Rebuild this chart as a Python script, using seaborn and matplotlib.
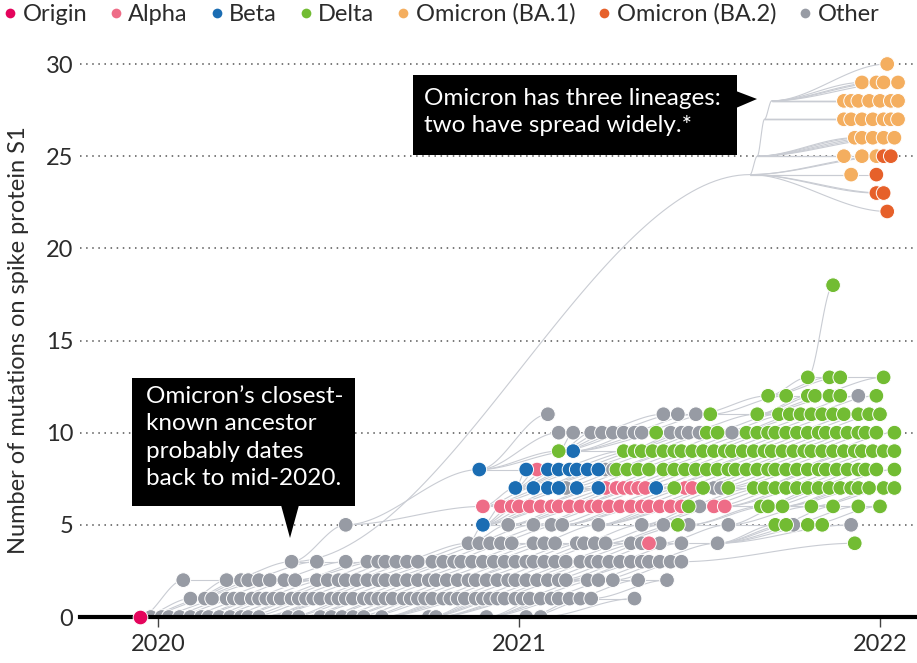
import numpy as np
import pandas as pd
import matplotlib
matplotlib.use("Agg")
import matplotlib.pyplot as plt
from matplotlib.collections import LineCollection
from matplotlib.lines import Line2D
from matplotlib.patches import Rectangle, Polygon
import seaborn as sns

# ---------------------------------------------------------------------------
# Data: sampled genomes, grouped by number of S1 mutations.
# Each entry is (mutations, [sampling dates in years since 1 Jan 2020]).
# ---------------------------------------------------------------------------
LINEAGES = ["Origin", "Alpha", "Beta", "Delta",
            "Omicron (BA.1)", "Omicron (BA.2)", "Other"]

COLORS = {
    "Origin": "#e4045c",
    "Alpha": "#ee6c87",
    "Beta": "#1b6db3",
    "Delta": "#72bc33",
    "Omicron (BA.1)": "#f4ae5f",
    "Omicron (BA.2)": "#e6602a",
    "Other": "#979ba4",
}

ORIGIN = [(0, [-0.05])]

OTHER = [
    (0, [-0.02, 0.01, 0.03, 0.06, 0.09, 0.12, 0.14, 0.17, 0.20, 0.23, 0.25,
         0.28, 0.36, 0.39, 0.45, 0.48, 0.51, 0.54, 0.57, 0.62, 0.75, 0.77,
         0.91, 1.02, 1.06]),
    (1, [0.09, 0.13, 0.15, 0.19, 0.21, 0.23, 0.26, 0.28, 0.30, 0.32, 0.34,
         0.37, 0.39, 0.41, 0.43, 0.45, 0.48, 0.50, 0.52, 0.54, 0.57, 0.59,
         0.61, 0.63, 0.65, 0.68, 0.70, 0.72, 0.74, 0.76, 0.79, 0.81, 0.83,
         0.85, 0.88, 0.90, 0.92, 0.94, 0.96, 0.99, 1.01, 1.03, 1.06, 1.09,
         1.11, 1.14, 1.17, 1.20, 1.32]),
    (2, [0.07, 0.19, 0.23, 0.25, 0.28, 0.31, 0.35, 0.38, 0.44, 0.47, 0.50,
         0.52, 0.55, 0.58, 0.61, 0.63, 0.66, 0.69, 0.72, 0.75, 0.77, 0.80,
         0.83, 0.86, 0.88, 0.91, 0.94, 0.97, 0.99, 1.02, 1.05, 1.08, 1.11,
         1.13, 1.19, 1.22, 1.26, 1.33, 1.41]),
    (3, [0.37, 0.44, 0.52, 0.58, 0.61, 0.63, 0.66, 0.69, 0.72, 0.76, 0.79,
         0.82, 0.84, 0.87, 0.90, 0.93, 0.96, 0.99, 1.02, 1.04, 1.07, 1.10,
         1.13, 1.17, 1.20, 1.22, 1.25, 1.28, 1.31, 1.34, 1.36, 1.39, 1.42,
         1.45]),
    (4, [0.86, 0.89, 0.92, 0.95, 0.98, 1.04, 1.07, 1.10, 1.16, 1.18, 1.21,
         1.24, 1.31, 1.34, 1.39, 1.45, 1.55]),
    (5, [0.52, 0.97, 1.04, 1.09, 1.12, 1.22, 1.34, 1.40, 1.47, 1.58, 1.76,
         1.92]),
    (6, [1.50]),
    (7, [1.13, 1.54, 1.56]),
    (8, [1.24, 1.26]),
    (10, [1.11, 1.15, 1.20, 1.23, 1.26, 1.29, 1.32, 1.34, 1.42, 1.45, 1.47,
          1.50, 1.59]),
    (11, [1.08, 1.40, 1.44, 1.49]),
    (12, [1.94]),
]

ALPHA = [
    (4, [1.36]),
    (6, [0.90, 0.95, 0.98, 1.00, 1.03, 1.06, 1.09, 1.11, 1.14, 1.17, 1.20,
         1.22, 1.25, 1.28, 1.31, 1.34, 1.36, 1.39, 1.42, 1.45, 1.54, 1.57]),
    (7, [1.24, 1.27, 1.29, 1.31, 1.33, 1.35, 1.46, 1.48]),
    (8, [1.05]),
]

BETA = [
    (5, [0.90]),
    (7, [0.99, 1.04, 1.08, 1.11, 1.16, 1.22, 1.38]),
    (8, [0.89, 1.02, 1.08, 1.11, 1.14, 1.16, 1.19, 1.22]),
    (9, [1.15]),
]

DELTA = [
    (4, [1.93]),
    (5, [1.44, 1.71, 1.74, 1.80, 1.84]),
    (6, [1.47, 1.67, 1.69, 1.73, 1.81, 1.87, 1.94, 2.00]),
    (7, [1.43, 1.51, 1.58, 1.65, 1.68, 1.71, 1.74, 1.77, 1.80, 1.83, 1.86,
         1.89, 1.92, 1.94, 1.97, 2.01, 2.04]),
    (8, [1.27, 1.30, 1.33, 1.36, 1.40, 1.43, 1.46, 1.49, 1.52, 1.55, 1.58,
         1.60, 1.63, 1.66, 1.69, 1.71, 1.74, 1.77, 1.80, 1.83, 1.85, 1.88,
         1.91, 1.94, 1.96, 1.99, 2.04]),
    (9, [1.11, 1.29, 1.32, 1.34, 1.37, 1.40, 1.43, 1.45, 1.48, 1.51, 1.54,
         1.57, 1.59, 1.62, 1.65, 1.68, 1.70, 1.73, 1.76, 1.79, 1.81, 1.84,
         1.87, 1.90, 1.93, 1.95, 1.98, 2.01, 2.04]),
    (10, [1.38, 1.52, 1.55, 1.63, 1.66, 1.69, 1.71, 1.74, 1.77, 1.80, 1.83,
          1.85, 1.88, 1.91, 1.94, 1.96, 1.99, 2.04]),
    (11, [1.53, 1.66, 1.72, 1.75, 1.78, 1.81, 1.84, 1.87, 1.90, 1.94, 1.97,
          2.00]),
    (12, [1.69, 1.74, 1.80, 1.82, 1.86, 1.89, 1.99]),
    (13, [1.80, 1.86, 1.89, 2.01]),
    (18, [1.87]),
]

BA1 = [
    (24, [1.92]),
    (25, [1.90, 1.95, 1.99]),
    (26, [1.93, 1.95, 1.98, 2.01, 2.04]),
    (27, [1.90, 1.92, 1.95, 1.98, 2.01, 2.03, 2.05]),
    (28, [1.90, 1.92, 1.94, 1.97, 2.00, 2.03, 2.05]),
    (29, [1.95, 1.99, 2.01, 2.05]),
    (30, [2.02]),
]

BA2 = [
    (22, [2.02]),
    (23, [1.99, 2.01]),
    (24, [1.99]),
    (25, [2.01, 2.03]),
]

# Omicron's long branch: closest known ancestor and the internal nodes
OMICRON_ANCESTOR = (0.37, 3)
OMICRON_NODE_T = [1.64, 1.66, 1.68, 1.70]
OMICRON_NODE_Y = [24, 25, 27, 28]

YEAR0 = 2020
W, H = 917, 663

# ---------------------------------------------------------------------------
records = []
for name, rows in [("Other", OTHER), ("Alpha", ALPHA), ("Beta", BETA),
                   ("Delta", DELTA), ("Omicron (BA.1)", BA1),
                   ("Omicron (BA.2)", BA2)]:
    for m, ts in rows:
        for t in sorted(ts):
            records.append((name, YEAR0 + t, m))
df = pd.DataFrame(records, columns=["lineage", "date", "mutations"])
origin_df = pd.DataFrame(
    [("Origin", YEAR0 + t, m) for m, ts in ORIGIN for t in ts],
    columns=["lineage", "date", "mutations"])

sns.set_theme(style="white")
plt.rcParams["font.family"] = ["Lato", "DejaVu Sans"]
TXT = "#2b2b2b"

fig = plt.figure(figsize=(W / 100, H / 100), dpi=100)


def fx(px):
    return px / W


def fy(py):
    return 1 - py / H


ax = fig.add_axes([fx(80), fy(617), fx(917) - fx(80), fy(45) - fy(617)])


def s_curve(x0, y0, x1, y1, n=40):
    u = np.linspace(0, 1, n)
    return np.column_stack([x0 + (x1 - x0) * u,
                            y0 + (y1 - y0) * u * u * (3 - 2 * u)])


# --- phylogenetic branches -------------------------------------------------
base = pd.concat([origin_df, df[~df.lineage.str.startswith("Omicron")]])
rows_all = {}
for d, m in zip(base.date, base.mutations):
    rows_all.setdefault(m, []).append(d)

segs = []
for d, m in zip(base.date, base.mutations):
    if m == 0:
        continue
    for r in range(m - 1, -1, -1):
        cand = [c for c in rows_all.get(r, []) if c < d - 0.02]
        if cand:
            p = min(cand, key=lambda c: abs(c - (d - 0.2)))
            segs.append(s_curve(p, r, d, m))
            break
for m, xs in rows_all.items():
    xs = sorted(xs)
    for a, b in zip(xs[:-1], xs[1:]):
        if b - a < 0.15:
            segs.append(np.array([[a, m], [b, m]]))

node_x = [YEAR0 + t for t in OMICRON_NODE_T]
segs.append(s_curve(YEAR0 + OMICRON_ANCESTOR[0], OMICRON_ANCESTOR[1],
                    node_x[0], OMICRON_NODE_Y[0], n=80))
for i in range(len(node_x) - 1):
    segs.append(s_curve(node_x[i], OMICRON_NODE_Y[i],
                        node_x[i + 1], OMICRON_NODE_Y[i + 1]))
omi = df[df.lineage.str.startswith("Omicron")]
for d, m, lin in zip(omi.date, omi.mutations, omi.lineage):
    if lin == "Omicron (BA.2)":
        k = 0
    else:
        k = int(np.argmin([abs(y - m) for y in OMICRON_NODE_Y]))
    segs.append(s_curve(node_x[k], OMICRON_NODE_Y[k], d, m))

ax.add_collection(LineCollection(segs, colors="#c9ccd3", linewidths=0.8,
                                 zorder=1))

# --- sampled genomes ---------------------------------------------------------
sns.scatterplot(data=df, x="date", y="mutations", hue="lineage",
                palette=COLORS, s=112, edgecolor="white", linewidth=0.7,
                legend=False, ax=ax, zorder=3)
sns.scatterplot(data=origin_df, x="date", y="mutations", color=COLORS["Origin"],
                s=112, edgecolor="white", linewidth=0.7, legend=False, ax=ax,
                zorder=6, clip_on=False)

# --- axes --------------------------------------------------------------------
ax.set_xlim(YEAR0 + (80 - 158) / 361, YEAR0 + (917 - 158) / 361)
ax.set_ylim(0, 30 + (64 - 45) / 18.43)
ax.set_xticks([2020, 2021, 2022])
ax.set_xticklabels(["2020", "2021", "2022"])
ax.set_yticks(range(0, 31, 5))
ax.set_xlabel("")
ax.set_ylabel("")
ax.tick_params(axis="x", bottom=True, length=7, width=1, color="#444",
               pad=5, labelsize=17, labelcolor=TXT)
ax.tick_params(axis="y", left=False, length=0, pad=5, labelsize=17,
               labelcolor=TXT)
ax.grid(axis="y", linestyle=(0, (1, 3)), color="#555", linewidth=1.1)
ax.grid(axis="x", visible=False)
ax.set_axisbelow(True)
for s in ["left", "top", "right"]:
    ax.spines[s].set_visible(False)
ax.spines["bottom"].set_linewidth(3)
ax.spines["bottom"].set_color("black")
ax.spines["bottom"].set_zorder(5)

fig.text(fx(19), fy(340), "Number of mutations on spike protein S1",
         rotation=90, ha="center", va="center", fontsize=17, color=TXT)

# --- legend ------------------------------------------------------------------
handles = [Line2D([], [], marker="o", linestyle="", markersize=7,
                  markerfacecolor=COLORS[k], markeredgecolor="none")
           for k in LINEAGES]
fig.legend(handles, LINEAGES, loc="upper left", bbox_to_anchor=(0.0, 1.0),
           ncol=7, frameon=False, fontsize=17, handlelength=0.55,
           handletextpad=0.25, columnspacing=0.95, borderaxespad=0.1,
           borderpad=0.05, labelcolor=TXT)

# --- callouts ----------------------------------------------------------------
fig.add_artist(Rectangle((fx(132), fy(506)), fx(355) - fx(132),
                         fy(378) - fy(506), transform=fig.transFigure,
                         facecolor="black", edgecolor="none", zorder=10))
fig.add_artist(Polygon([(fx(281), fy(505)), (fx(299), fy(505)),
                        (fx(290), fy(538))], closed=True,
                       transform=fig.transFigure, facecolor="black",
                       edgecolor="none", zorder=10))
fig.text(fx(146), fy(386),
         "Omicron\u2019s closest-\nknown ancestor\nprobably dates\nback to mid-2020.",
         ha="left", va="top", fontsize=17.5, color="white", linespacing=1.38,
         zorder=11)

fig.add_artist(Rectangle((fx(413), fy(155)), fx(737) - fx(413),
                         fy(75) - fy(155), transform=fig.transFigure,
                         facecolor="black", edgecolor="none", zorder=10))
fig.add_artist(Polygon([(fx(736), fy(91)), (fx(736), fy(108)),
                        (fx(757), fy(99))], closed=True,
                       transform=fig.transFigure, facecolor="black",
                       edgecolor="none", zorder=10))
fig.text(fx(424), fy(88),
         "Omicron has three lineages:\ntwo have spread widely.*",
         ha="left", va="top", fontsize=17.5, color="white", linespacing=1.38,
         zorder=11)

fig.savefig("out.png", dpi=100, facecolor="white")
